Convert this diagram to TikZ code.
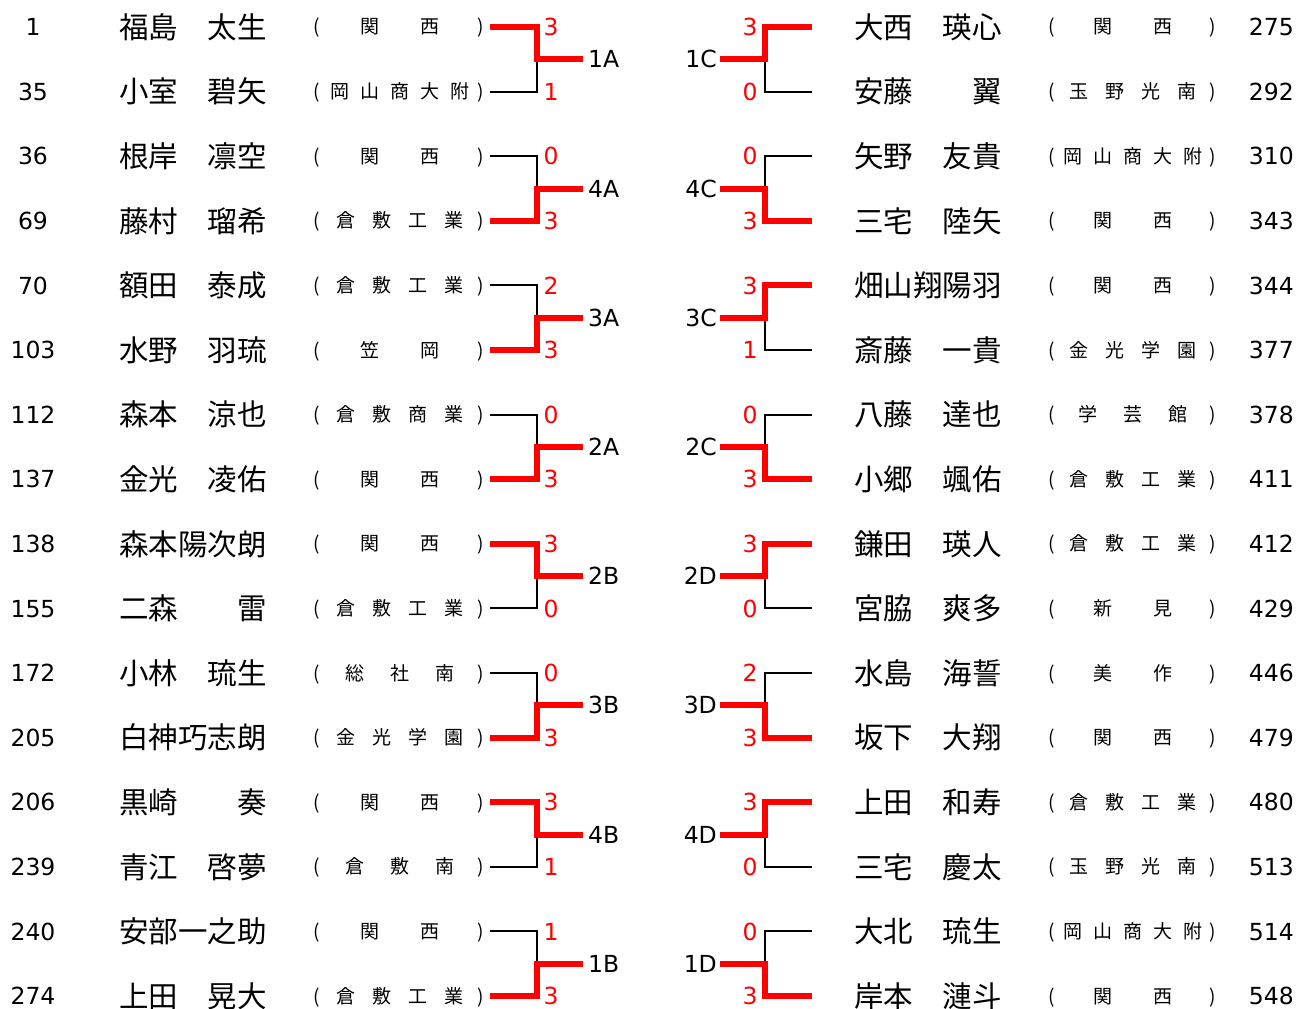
\documentclass[tikz,border=0pt]{standalone}
\usepackage{fontspec}
\setmainfont{Noto Sans CJK JP}
\newfontfamily\digfont{DejaVu Sans}
\tikzset{
  nm/.style={font=\fontsize{29.5}{29.5}\selectfont, inner sep=0pt, anchor=base west},
  af/.style={font=\fontsize{19}{19}\selectfont, inner sep=0pt, anchor=base},
  num/.style={font=\digfont\fontsize{23.5}{23.5}\selectfont, inner sep=0pt, anchor=base},
  sc/.style={num, text=red},
  win/.style={draw=red, line width=6pt, line join=miter},
  lose/.style={draw=black, line width=2pt, line join=miter},
}
% left row: #1 k, #2 seed, #3 name, #4 n, #5 aff list, #6 score
\newcommand\Lrow[6]{%
  \pgfmathsetmacro\yy{27+64.6*#1}%
  \node[num] (Ls#1) at (33,\yy+8.6) {#2};
  \node[nm] (Ln#1) at (119,\yy+11.2) {#3};
  \node[af] (Lp#1) at (317,\yy+7) {(};
  \node[af] (Lq#1) at (481,\yy+7) {)};
  \foreach \c [count=\i] in {#5} {
    \node[af] (La#1-\i) at ({400+(\i-(#4+1)/2)*180/(#4+1)},\yy+7) {\c};
  }
  \coordinate (Le#1) at (490,\yy);
  \node[sc] (Lc#1) at (551,\yy+8.6) {#6};
}
\newcommand\Rrow[6]{%
  \pgfmathsetmacro\yy{27+64.6*#1}%
  \node[num, anchor=base east] (Rs#1) at (1294,\yy+8.6) {#2};
  \node[nm] (Rn#1) at (854,\yy+11.2) {#3};
  \node[af] (Rp#1) at (1052,\yy+7) {(};
  \node[af] (Rq#1) at (1213,\yy+7) {)};
  \foreach \c [count=\i] in {#5} {
    \node[af] (Ra#1-\i) at ({1133+(\i-(#4+1)/2)*180/(#4+1)},\yy+7) {\c};
  }
  \coordinate (Re#1) at (812,\yy);
  \node[sc] (Rc#1) at (750,\yy+8.6) {#6};
}
% pair: #1 j, #2 label, #3 winner row, #4 loser row
\newcommand\Lpair[4]{%
  \pgfmathsetmacro\ym{27+64.6*2*#1+32.3}%
  \coordinate (Lm#1) at (537,\ym);
  \coordinate (Lo#1) at (583,\ym);
  \node[num, anchor=base west] (Ll#1) at (588,\ym+8.6) {#2};
  \draw[lose] (Le#4) -| (Lm#1);
  \draw[win] (Le#3) -| (Lm#1) -- (Lo#1);
}
\newcommand\Rpair[4]{%
  \pgfmathsetmacro\ym{27+64.6*2*#1+32.3}%
  \coordinate (Rm#1) at (765,\ym);
  \coordinate (Ro#1) at (720,\ym);
  \node[num, anchor=base east] (Rl#1) at (717,\ym+8.6) {#2};
  \draw[lose] (Re#4) -| (Rm#1);
  \draw[win] (Re#3) -| (Rm#1) -- (Ro#1);
}
\begin{document}
\begin{tikzpicture}[x=1pt,y=-1pt]
\fill[white] (0,0) rectangle (1299,1009);
\useasboundingbox (0,0) rectangle (1299,1009);
\Lrow{0}{1}{福島　太生}{2}{関,西}{3}
\Lrow{1}{35}{小室　碧矢}{5}{岡,山,商,大,附}{1}
\Lrow{2}{36}{根岸　凛空}{2}{関,西}{0}
\Lrow{3}{69}{藤村　瑠希}{4}{倉,敷,工,業}{3}
\Lrow{4}{70}{額田　泰成}{4}{倉,敷,工,業}{2}
\Lrow{5}{103}{水野　羽琉}{2}{笠,岡}{3}
\Lrow{6}{112}{森本　涼也}{4}{倉,敷,商,業}{0}
\Lrow{7}{137}{金光　凌佑}{2}{関,西}{3}
\Lrow{8}{138}{森本陽次朗}{2}{関,西}{3}
\Lrow{9}{155}{二森　　雷}{4}{倉,敷,工,業}{0}
\Lrow{10}{172}{小林　琉生}{3}{総,社,南}{0}
\Lrow{11}{205}{白神巧志朗}{4}{金,光,学,園}{3}
\Lrow{12}{206}{黒崎　　奏}{2}{関,西}{3}
\Lrow{13}{239}{青江　啓夢}{3}{倉,敷,南}{1}
\Lrow{14}{240}{安部一之助}{2}{関,西}{1}
\Lrow{15}{274}{上田　晃大}{4}{倉,敷,工,業}{3}
\Lpair{0}{1A}{0}{1}
\Lpair{1}{4A}{3}{2}
\Lpair{2}{3A}{5}{4}
\Lpair{3}{2A}{7}{6}
\Lpair{4}{2B}{8}{9}
\Lpair{5}{3B}{11}{10}
\Lpair{6}{4B}{12}{13}
\Lpair{7}{1B}{15}{14}
\Rrow{0}{275}{大西　瑛心}{2}{関,西}{3}
\Rrow{1}{292}{安藤　　翼}{4}{玉,野,光,南}{0}
\Rrow{2}{310}{矢野　友貴}{5}{岡,山,商,大,附}{0}
\Rrow{3}{343}{三宅　陸矢}{2}{関,西}{3}
\Rrow{4}{344}{畑山翔陽羽}{2}{関,西}{3}
\Rrow{5}{377}{斎藤　一貴}{4}{金,光,学,園}{1}
\Rrow{6}{378}{八藤　達也}{3}{学,芸,館}{0}
\Rrow{7}{411}{小郷　颯佑}{4}{倉,敷,工,業}{3}
\Rrow{8}{412}{鎌田　瑛人}{4}{倉,敷,工,業}{3}
\Rrow{9}{429}{宮脇　爽多}{2}{新,見}{0}
\Rrow{10}{446}{水島　海誓}{2}{美,作}{2}
\Rrow{11}{479}{坂下　大翔}{2}{関,西}{3}
\Rrow{12}{480}{上田　和寿}{4}{倉,敷,工,業}{3}
\Rrow{13}{513}{三宅　慶太}{4}{玉,野,光,南}{0}
\Rrow{14}{514}{大北　琉生}{5}{岡,山,商,大,附}{0}
\Rrow{15}{548}{岸本　漣斗}{2}{関,西}{3}
\Rpair{0}{1C}{0}{1}
\Rpair{1}{4C}{3}{2}
\Rpair{2}{3C}{4}{5}
\Rpair{3}{2C}{7}{6}
\Rpair{4}{2D}{8}{9}
\Rpair{5}{3D}{11}{10}
\Rpair{6}{4D}{12}{13}
\Rpair{7}{1D}{15}{14}
\end{tikzpicture}
\end{document}
